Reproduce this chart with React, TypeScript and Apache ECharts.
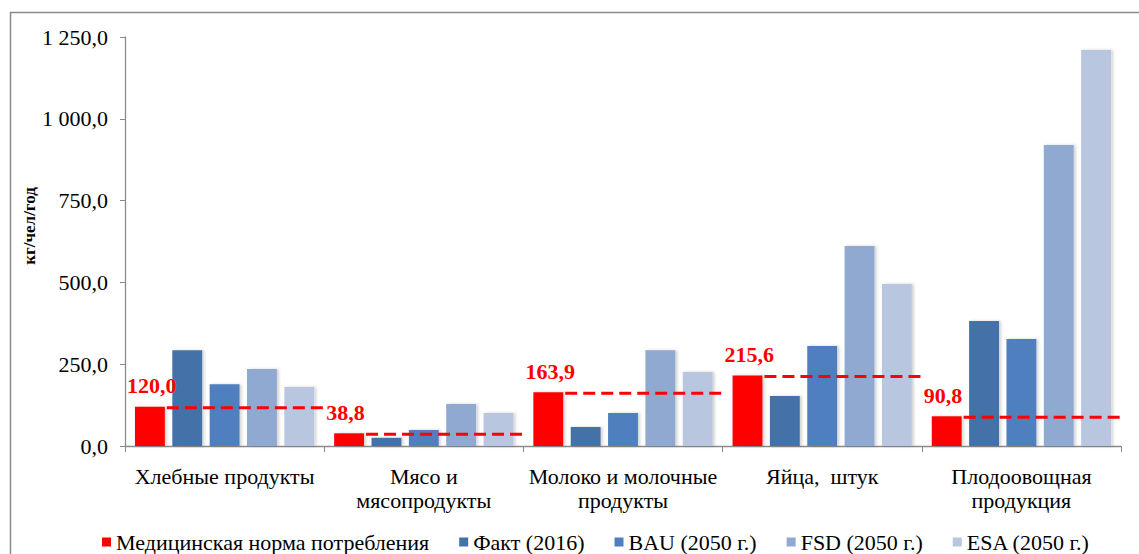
import React, { useEffect, useRef } from "react";
import * as echarts from "echarts";

const categories = [
  "Хлебные продукты",
  "Мясо и\nмясопродукты",
  "Молоко и молочные\nпродукты",
  "Яйца,  штук",
  "Плодоовощная\nпродукция",
];
const normValues = [120.0, 38.8, 163.9, 215.6, 90.8];
const factValues = [293, 25, 58, 153, 382];
const bauValues = [189, 49, 101, 306, 327];
const fsdValues = [235, 128, 293, 611, 920];
const esaValues = [180, 101, 226, 495, 1210];
const seriesNames = [
  "Медицинская норма потребления",
  "Факт (2016)",
  "BAU (2050 г.)",
  "FSD (2050 г.)",
  "ESA (2050 г.)",
];
const yAxisTitle = "кг/чел/год";
const colors = ["#FF0000", "#4571A9", "#4F7FBE", "#90A9D0", "#B8C6E0"];
const yTicks = { min: 0, max: 1250, interval: 250 };

const FONT = "Liberation Serif, Times New Roman, serif";

const fmt = (v: number) => {
  const s = v.toFixed(1);
  const [i, d] = s.split(".");
  return i.replace(/\B(?=(\d{3})+(?!\d))/g, " ") + "," + d;
};

export default function App() {
  const ref = useRef<HTMLDivElement>(null);
  useEffect(() => {
    if (!ref.current) return;
    const chart = echarts.init(ref.current, undefined, { renderer: "svg" });
    const allValues = [normValues, factValues, bauValues, fsdValues, esaValues];
    const barSeries = allValues.map((vals, k) => ({
      name: seriesNames[k],
      type: "bar",
      data: vals,
      barGap: "25%",
      barCategoryGap: "10%",
      itemStyle: {
        color: colors[k],
        shadowColor: "rgba(0,0,0,0.18)",
        shadowBlur: 3,
        shadowOffsetX: 2,
        shadowOffsetY: 0,
      },
      z: 2,
    }));
    const option: any = {
      animation: false,
      textStyle: { fontFamily: FONT },
      graphic: [
        {
          type: "rect",
          left: 8,
          top: 10,
          shape: { x: 0, y: 0, width: 1150, height: 560 },
          style: { fill: "none", stroke: "#8a8a8a", lineWidth: 1.5 },
          silent: true,
          z: -1,
        },
        {
          type: "text",
          x: 29,
          y: 226,
          rotation: Math.PI / 2,
          silent: true,
          style: {
            text: yAxisTitle,
            fill: "#000",
            font: `bold 17px ${FONT}`,
            align: "center",
            verticalAlign: "middle",
          },
        },
      ],
      grid: { left: 125, right: 18, top: 37, bottom: 108, containLabel: false },
      legend: {
        data: seriesNames,
        left: 97,
        top: 526,
        icon: "rect",
        itemWidth: 9,
        itemHeight: 9,
        itemGap: 30,
        textStyle: { fontFamily: FONT, fontSize: 22, color: "#000" },
      },
      xAxis: {
        type: "category",
        data: categories,
        axisLine: { lineStyle: { color: "#8a8a8a", width: 1.3 } },
        axisTick: { show: true, length: 6, lineStyle: { color: "#8a8a8a" } },
        axisLabel: {
          fontFamily: FONT,
          fontSize: 22,
          color: "#000",
          lineHeight: 24,
          margin: 18,
          interval: 0,
        },
      },
      yAxis: {
        type: "value",
        min: yTicks.min,
        max: yTicks.max,
        interval: yTicks.interval,
        splitLine: { show: false },
        axisLine: { show: true, lineStyle: { color: "#8a8a8a", width: 1.3 } },
        axisTick: { show: true, length: 5, lineStyle: { color: "#8a8a8a" } },
        axisLabel: {
          fontFamily: FONT,
          fontSize: 22,
          color: "#000",
          margin: 17,
          formatter: (v: number) => fmt(v),
        },
      },
      series: [
        ...barSeries,
        {
          type: "custom",
          name: "norm-lines",
          data: normValues.map((v, i) => [i, v]),
          encode: { x: 0, y: 1 },
          z: 5,
          silent: true,
          renderItem: (params: any, api: any) => {
            const idx = api.value(0);
            const val = api.value(1);
            const pt = api.coord([idx, val]);
            const band = api.size([1, 0])[0];
            const catLeft = pt[0] - band / 2;
            const catRight = pt[0] + band / 2;
            const x1 = catLeft + band * 0.2 + 2;
            return {
              type: "group",
              children: [
                {
                  type: "line",
                  shape: { x1, y1: pt[1] + 1, x2: catRight - 1, y2: pt[1] + 1 },
                  style: { stroke: "#FF0000", lineWidth: 3, lineDash: [12, 6] },
                },
                {
                  type: "text",
                  x: catLeft + 2,
                  y: pt[1] - 21,
                  style: {
                    text: fmt(val),
                    fill: "#FF0000",
                    font: `bold 22px ${FONT}`,
                    align: "left",
                    verticalAlign: "middle",
                  },
                },
              ],
            };
          },
        },
      ],
    };
    chart.setOption(option);
    return () => chart.dispose();
  }, []);
  return (
    <div
      ref={ref}
      style={{ position: "fixed", left: 0, top: 0, width: 1139, height: 554, background: "#fff" }}
    />
  );
}
